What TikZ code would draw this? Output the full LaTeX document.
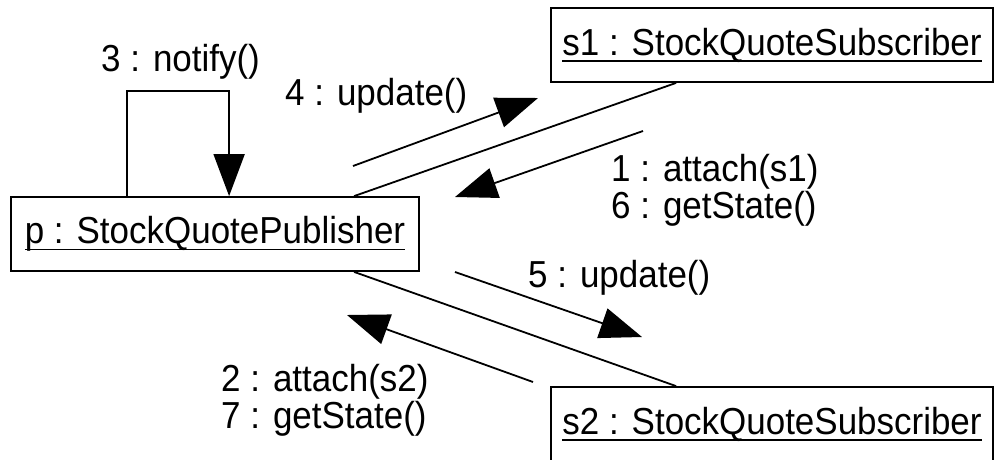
\documentclass[tikz,border=0pt]{standalone}
\usepackage{fontspec}
\setmainfont[FakeStretch=0.93]{Liberation Sans}
\usetikzlibrary{arrows.meta,calc}
\newcommand\objname[1]{\setbox0\hbox{#1}\rlap{\rule[-6.5pt]{\wd0}{1.6pt}}\box0}
\begin{document}
\begin{tikzpicture}[x=1pt,y=-1pt,
  lbl/.style={font=\fontsize{37.6}{33}\selectfont, inner sep=0pt, anchor=base west, align=left},
  obj/.style={draw, line width=1.8pt, inner sep=0pt, font=\fontsize{37.6}{33}\selectfont},
  link/.style={line width=1.8pt},
  msg/.style={line width=1.8pt, -{Triangle[length=42pt,width=31pt]}}]
\useasboundingbox (0,0) rectangle (997,459);
\clip (0,0) rectangle (997,459);
% objects
\node[obj, minimum width=408pt, minimum height=74pt] (p) at (215,234) {\objname{p : StockQuotePublisher}};
\node[obj, minimum width=442pt, minimum height=74pt] (s1) at (772,45) {\objname{s1 : StockQuoteSubscriber}};
\node[obj, minimum width=442pt, minimum height=74pt] (s2) at (772,424) {\objname{s2 : StockQuoteSubscriber}};
% links
\draw[link] ([xshift=344pt]p.north west) -- ([xshift=126pt]s1.south west);
\draw[link] ([xshift=344pt]p.south west) -- ([xshift=126pt]s2.north west);
% self message
\draw[msg] ([xshift=117pt]p.north west) -- ++(0,-105) -- ++(102,0) -- ([xshift=219pt]p.north west);
% messages
\coordinate (m4a) at (353,166); \coordinate (m4b) at (538,98);
\coordinate (m1a) at (643,131); \coordinate (m1b) at (455,197);
\coordinate (m5a) at (455,272); \coordinate (m5b) at (642,337);
\coordinate (m2a) at (533,382); \coordinate (m2b) at (347,315);
\draw[msg] (m4a) -- (m4b);
\draw[msg] (m1a) -- (m1b);
\draw[msg] (m5a) -- (m5b);
\draw[msg] (m2a) -- (m2b);
% labels
\node[lbl] (l3) at (101,71) {3 : notify()};
\node[lbl] (l4) at (285,105) {4 : update()};
\node[lbl] (l1) at (611,218) {1 : attach(s1)\\6 : getState()};
\node[lbl] (l5) at (528,287) {5 : update()};
\node[lbl] (l2) at (221,428) {2 : attach(s2)\\7 : getState()};
\end{tikzpicture}
\end{document}
